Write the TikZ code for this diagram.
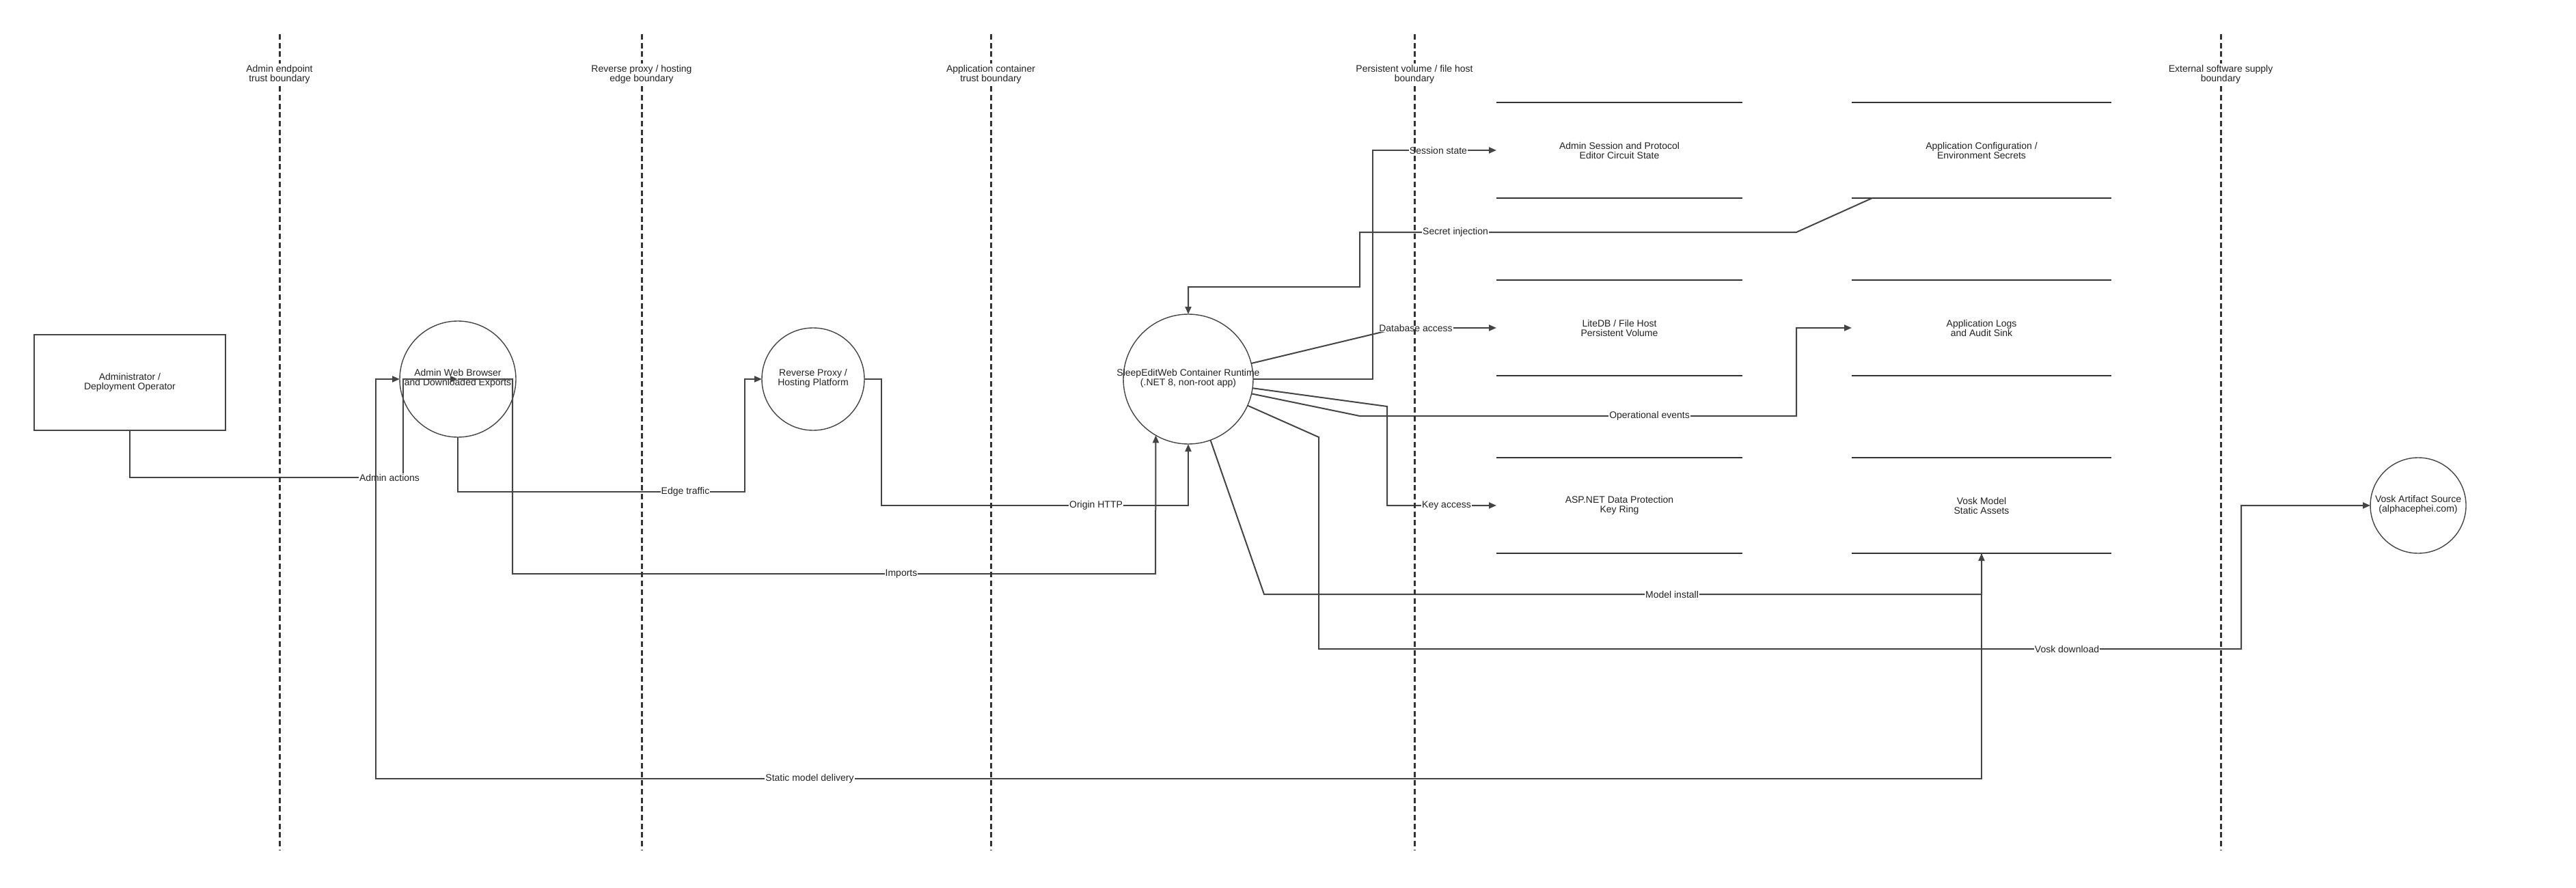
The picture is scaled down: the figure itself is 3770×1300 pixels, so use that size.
\documentclass[tikz,border=0pt]{standalone}
\usepackage{fontspec}
\setmainfont{Liberation Sans}
\usetikzlibrary{arrows.meta,calc}
\definecolor{ln}{HTML}{444444}
\definecolor{bn}{HTML}{333333}
\definecolor{tx}{HTML}{222222}
\begin{document}
\begin{tikzpicture}[x=1pt,y=-1pt,
  every node/.style={font=\fontsize{14}{14}\selectfont, text=tx},
  bnd/.style={draw=bn, line width=3pt, dash pattern=on 8pt off 4.7pt},
  blabel/.style={fill=white, align=center, inner sep=2pt},
  proc/.style={circle, draw=ln, line width=1.4pt, inner sep=0pt, outer sep=0pt},
  actorbox/.style={rectangle, draw=ln, line width=2pt, minimum width=280pt, minimum height=140pt, align=center, inner sep=0pt, outer sep=0pt},
  txt/.style={align=center, inner sep=0pt},
  flow/.style={draw=ln, line width=2pt, -{Triangle[length=11pt,width=9pt]}},
  elabel/.style={fill=white, inner sep=1pt},
  storeline/.style={draw=bn, line width=2.5pt},
  store/.style={minimum width=360pt, minimum height=140pt, inner sep=0pt, outer sep=0pt, align=center},
  storewide/.style={store, minimum width=380pt},
]
\useasboundingbox[fill=white] (0,0) rectangle (3770,1300);

% nodes
\node[actorbox] (op) at (190,560) {Administrator /\\Deployment Operator};
\node[proc, minimum size=170pt] (br) at (670,555) {};
\node[txt] (brt) at (670,554) {Admin Web Browser\\and Downloaded Exports};
\node[proc, minimum size=150pt] (rp) at (1190,555) {};
\node[txt] (rpt) at (1190,554) {Reverse Proxy /\\Hosting Platform};
\node[proc, minimum size=190pt] (sew) at (1739,555) {};
\node[txt] (sewt) at (1739,554) {SleepEditWeb Container Runtime\\(.NET 8, non-root app)};
\node[proc, minimum size=140pt] (va) at (3539,740) {};
\node[txt] (vat) at (3539,739) {Vosk Artifact Source\\(alphacephei.com)};

\node[store] (s1) at (2370,220) {Admin Session and Protocol\\Editor Circuit State};
\node[storewide] (s2) at (2900,220) {Application Configuration /\\Environment Secrets};
\node[store] (s3) at (2370,480) {LiteDB / File Host\\Persistent Volume};
\node[storewide] (s4) at (2900,480) {Application Logs\\and Audit Sink};
\node[store] (s5) at (2370,740) {ASP.NET Data Protection\\Key Ring};
\node[storewide] (s6) at (2900,740) {Vosk Model\\Static Assets};
\foreach \s in {s1,s2,s3,s4,s5,s6} {
  \draw[storeline] (\s.north west) -- (\s.north east);
  \draw[storeline] (\s.south west) -- (\s.south east);
}

% flows
\draw[flow] (op.south) -- (190,699) -- (590,699) -- (590,555) -- (br.center);
\node[elabel] (l1) at (570,699) {Admin actions};

\draw[flow] (br.center) -- (750,555) -- (750,840) -- (1691,840) -- (sew.-120);
\node[elabel] (l2) at (1319,840) {Imports};

\draw[flow] (br.south) -- (670,720) -- (1090,720) -- (1090,555) -- (rp.west);
\node[elabel] (l3) at (1003,720) {Edge traffic};

\draw[flow] (rp.east) -- (1290,555) -- (1290,740) -- (1739,740) -- (sew.south);
\node[elabel] (l4) at (1604,740) {Origin HTTP};

\draw[flow] ($(s2.south west)+(30,0)$) -- (2629,340) -- (1990,340) -- (1990,420) -- (1739,420) -- (sew.north);
\node[elabel] (l5) at (2130,340) {Secret injection};

\draw[flow] (sew.east) -- (2009,555) -- (2009,220) -- (s1.west);
\node[elabel] (l6) at (2105,220) {Session state};

\draw[flow] (sew.14) -- (2048,480) -- (s3.west);
\node[elabel] (l7) at (2072,480) {Database access};

\draw[flow] (sew.-8) -- (2030,595) -- (2030,740) -- (s5.west);
\node[elabel] (l8) at (2117,740) {Key access};

\draw[flow] (sew.-13) -- (1990,609) -- (2629,609) -- (2629,480) -- (s4.west);
\node[elabel] (l9) at (2414,609) {Operational events};

\draw[flow] (sew.-70) -- (1850,870) -- (2900,870) -- (s6.south);
\node[elabel] (l10) at (2447,870) {Model install};

\draw[flow] (sew.-24) -- (1930,640) -- (1930,950) -- (3280,950) -- (3280,740) -- (va.west);
\node[elabel] (l11) at (3025,950) {Vosk download};

\draw[flow] (s6.south) -- (2900,1140) -- (550,1140) -- (550,555) -- (br.west);
\node[elabel] (l12) at (1185,1140) {Static model delivery};

% trust boundaries
\draw[bnd] (409,50) -- (409,1245);
\node[blabel] (b1) at (409,109) {Admin endpoint\\trust boundary};
\draw[bnd] (939,50) -- (939,1245);
\node[blabel] (b2) at (939,109) {Reverse proxy / hosting\\edge boundary};
\draw[bnd] (1450,50) -- (1450,1245);
\node[blabel] (b3) at (1450,109) {Application container\\trust boundary};
\draw[bnd] (2070,50) -- (2070,1245);
\node[blabel] (b4) at (2070,109) {Persistent volume / file host\\boundary};
\draw[bnd] (3250,50) -- (3250,1245);
\node[blabel] (b5) at (3250,109) {External software supply\\boundary};
\end{tikzpicture}
\end{document}
